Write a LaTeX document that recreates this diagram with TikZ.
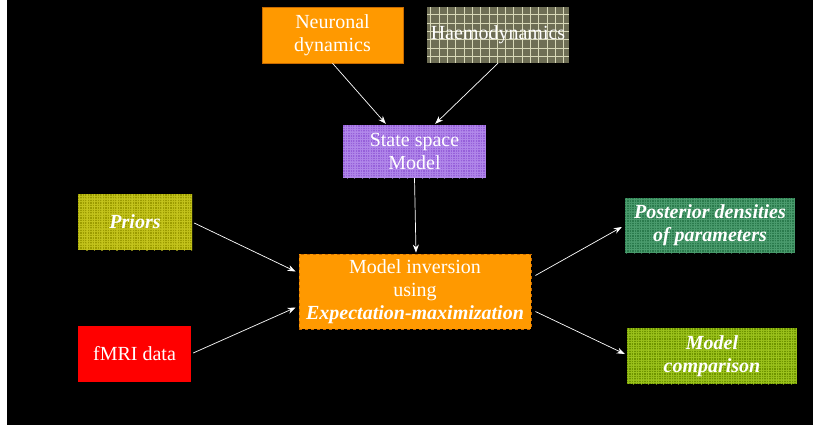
\documentclass[tikz,border=0pt]{standalone}
\usepackage{fontspec}
\setmainfont{Liberation Serif}
\usetikzlibrary{arrows.meta,calc}
\definecolor{orng}{HTML}{FF9900}
\definecolor{orngdark}{HTML}{C86A00}
\definecolor{haembase}{HTML}{6E6E55}
\definecolor{haemline}{HTML}{D8D8B8}
\definecolor{purpbase}{HTML}{9660DA}
\definecolor{purpline}{HTML}{B48CEC}
\definecolor{privbase}{HTML}{9C9C00}
\definecolor{privline}{HTML}{C8C820}
\definecolor{postbase}{HTML}{2A7A4C}
\definecolor{postline}{HTML}{4FA072}
\definecolor{compbase}{HTML}{6E9400}
\definecolor{compline}{HTML}{A0C820}
\definecolor{fmrired}{HTML}{FF0000}
\tikzset{
  boxnode/.style={inner sep=0pt, align=center, text=white,
    font=\fontsize{20}{23}\selectfont},
  gridfill/.style n args={4}{fill=#1,
    path picture={
      \draw[#2, line width=#4]
        (path picture bounding box.south west) grid[step=#3]
        (path picture bounding box.north east);}},
  plaidfill/.style n args={3}{fill=#1,
    path picture={
      \draw[#2, line width=0.5pt, opacity=0.8]
        (path picture bounding box.south west) grid[step=#3]
        (path picture bounding box.north east);
      \draw[#2, line width=1.2pt, opacity=0.6]
        ($(path picture bounding box.south west)+(1.5pt,-1.5pt)$) grid[step=3*#3]
        (path picture bounding box.north east);}},
  conn/.style={draw=white, line width=0.7pt,
    -{Stealth[length=8pt,width=6pt]}}
}
\begin{document}
\begin{tikzpicture}[x=1pt,y=-1pt]
\useasboundingbox (0,0) rectangle (813,425);
\fill[white] (0,0) rectangle (813,425);
\fill[black] (7,0) rectangle (813,425);

\node[boxnode, fill=orng, draw=orngdark, line width=0.5pt,
  minimum width=141pt, minimum height=56pt] (neur) at (332.5,35)
  {Neuronal\\dynamics};
\node[boxnode, gridfill={haembase}{haemline}{8.3pt}{0.8pt},
  minimum width=142pt, minimum height=56pt] (haem) at (498,35)
  {Haemodynamics};
\node[boxnode, plaidfill={purpbase}{purpline}{2.5pt},
  minimum width=143pt, minimum height=53pt] (ssm) at (414.5,151.5)
  {State space\\Model};
\node[boxnode, plaidfill={privbase}{privline}{2.5pt},
  minimum width=114pt, minimum height=56pt] (pri) at (135,222)
  {\textbf{\textit{Priors}}};
\node[boxnode, fill=orng, draw=orngdark, dashed, line width=0.8pt,
  minimum width=232pt, minimum height=75pt] (inv) at (415,291.5)
  {Model inversion\\using\\\textbf{\textit{Expectation-maximization}}};
\node[boxnode, plaidfill={postbase}{postline}{2.5pt},
  minimum width=170pt, minimum height=55pt] (post) at (710,225.5)
  {\textbf{\textit{Posterior densities}}\\\textbf{\textit{of parameters}}};
\node[boxnode, plaidfill={compbase}{compline}{2.5pt},
  minimum width=170pt, minimum height=56pt] (comp) at (712,356)
  {\textbf{\textit{Model}}\\\textbf{\textit{comparison}}};
\node[boxnode, fill=fmrired,
  minimum width=113pt, minimum height=56pt] (fmri) at (134.5,354)
  {fMRI data};

\draw[conn] (neur.south) -- ($(ssm.north west)+(43,-1)$);
\draw[conn] (haem.south) -- ($(ssm.north east)+(-51,-1)$);
\draw[conn] (ssm.south) -- ($(inv.north)+(1,-1)$);
\draw[conn] ($(pri.east)+(2,1)$) -- ($(inv.west)+(-3,-20)$);
\draw[conn] ($(fmri.east)+(2,-1)$) -- ($(inv.west)+(-3,16)$);
\draw[conn] ($(inv.east)+(4,-16)$) -- ($(post.west)+(-3,1.5)$);
\draw[conn] ($(inv.east)+(4,20)$) -- ($(comp.west)+(-2,-2)$);
\end{tikzpicture}
\end{document}
